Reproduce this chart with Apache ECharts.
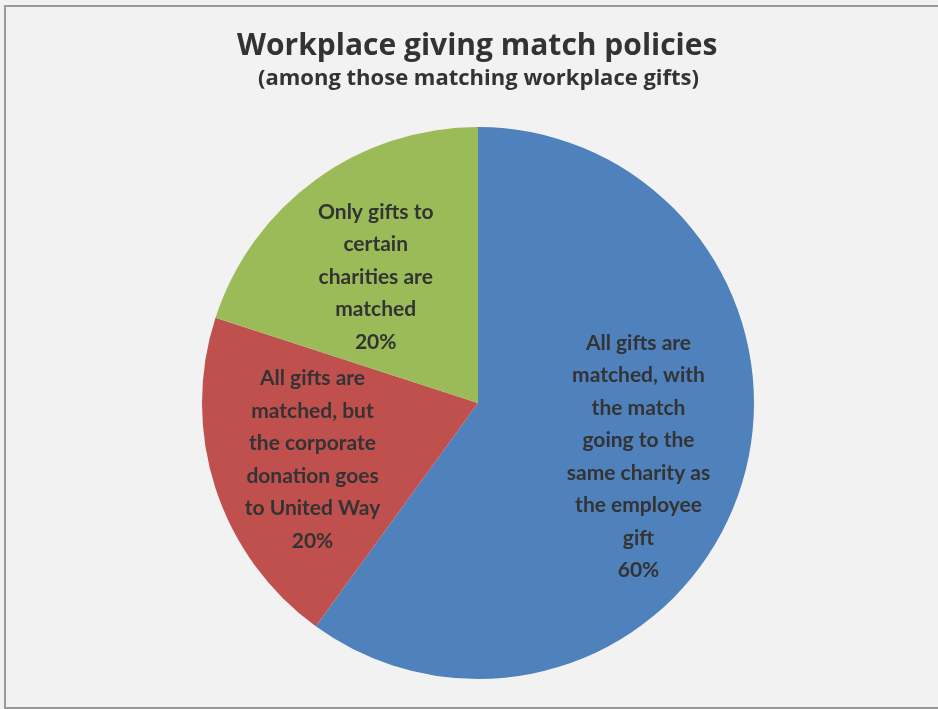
<!DOCTYPE html>
<html>
<head>
<meta charset="utf-8">
<script src="https://cdn.jsdelivr.net/npm/echarts@6/dist/echarts.min.js"></script>
<style>
html,body{margin:0;padding:0;background:#fff;}
#wrap{position:relative;width:938px;height:709px;background:#f2f2f2;overflow:hidden;}
#frame{position:absolute;left:4px;top:5px;width:960px;height:700px;border:2px solid #9a9a9a;box-sizing:content-box;}
#chart{position:absolute;left:0;top:0;width:938px;height:709px;}
</style>
</head>
<body>
<div id="wrap"><div id="frame"></div><div id="chart"></div></div>
<script>
const titleText = 'Workplace giving match policies';
const subtitleText = '(among those matching workplace gifts)';
const categories = [
  'All gifts are\nmatched, with\nthe match\ngoing to the\nsame charity as\nthe employee\ngift',
  'All gifts are\nmatched, but\nthe corporate\ndonation goes\nto United Way',
  'Only gifts to\ncertain\ncharities are\nmatched'
];
const values = [60, 20, 20];
const colors = ['#4f81bd', '#c0504d', '#9bbb59'];

const chart = echarts.init(document.getElementById('chart'), null, {renderer: 'canvas'});
const font = 'Lato, "Open Sans", sans-serif';
const titleFont = '"Open Sans", Lato, sans-serif';
const labelShiftY = [0, 3, 15];
const labelShiftX = [-5, 0, 0];
const pieData = categories.map((c, i) => ({name: c, value: values[i], itemStyle: {color: colors[i]}}));
const labelData = categories.map((c, i) => ({name: c, value: values[i]}));
chart.setOption({
  backgroundColor: 'transparent',
  title: [
    {
      text: titleText,
      left: 232,
      top: 26,
      textStyle: {fontFamily: titleFont, fontWeight: 'bold', fontSize: 30, color: '#333'}
    },
    {
      text: subtitleText,
      left: 253,
      top: 63,
      textStyle: {fontFamily: titleFont, fontWeight: 'bold', fontSize: 22, color: '#333'}
    }
  ],
  series: [
    {
      type: 'pie',
      center: [478, 403],
      radius: [0, 276],
      startAngle: 90,
      clockwise: true,
      silent: true,
      label: {show: false},
      labelLine: {show: false},
      itemStyle: {borderWidth: 0},
      data: pieData
    },
    {
      type: 'pie',
      center: [478, 403],
      radius: [66, 276],
      startAngle: 90,
      clockwise: true,
      silent: true,
      avoidLabelOverlap: false,
      itemStyle: {color: 'rgba(0,0,0,0)', borderWidth: 0},
      label: {
        show: true,
        position: 'inside',
        formatter: p => p.name + '\n' + Math.round(p.percent) + '%',
        fontFamily: font,
        fontWeight: 'bold',
        fontSize: 21,
        lineHeight: 32.5,
        color: '#333',
        align: 'center'
      },
      labelLayout: p => ({dx: labelShiftX[p.dataIndex], dy: labelShiftY[p.dataIndex]}),
      labelLine: {show: false},
      data: labelData
    }
  ]
});
</script>
</body>
</html>
